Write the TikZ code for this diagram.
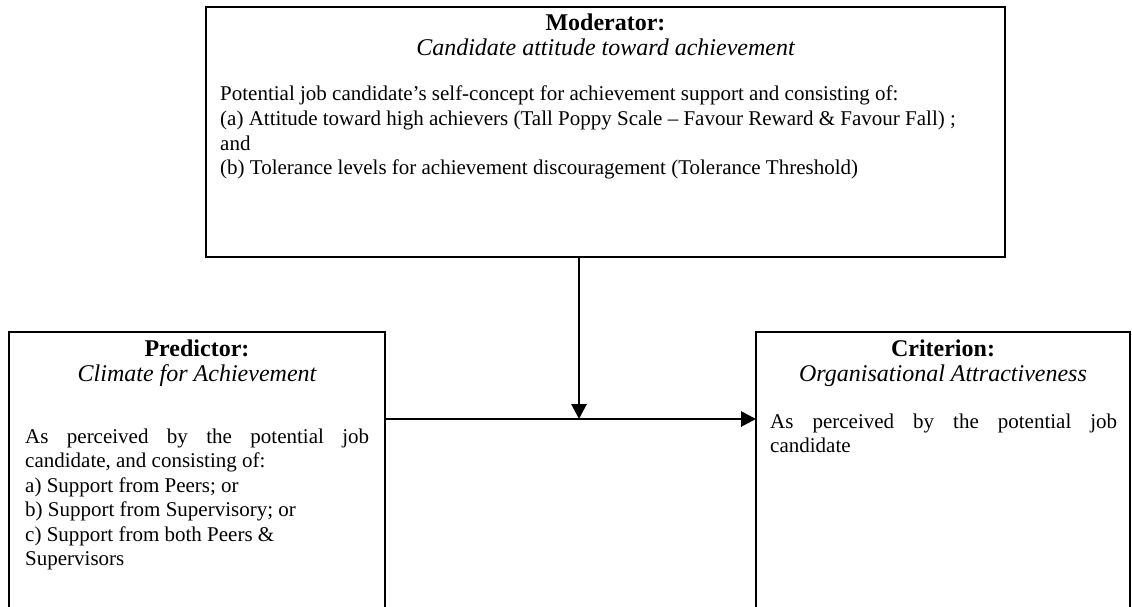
\documentclass[tikz,border=0pt]{standalone}
\usepackage{fontspec}
\setmainfont{Liberation Serif}
\usetikzlibrary{arrows.meta}
\newcommand{\bodyfs}{\fontsize{21}{24.4}\selectfont}
\newcommand{\headfs}{\fontsize{24}{28}\selectfont}
\begin{document}
\begin{tikzpicture}[x=1pt,y=-1pt,
  box/.style={draw, line width=2.8pt, inner sep=0pt, outer sep=0pt, anchor=north west},
  titletxt/.style={anchor=base, inner sep=0pt, font=\headfs\bfseries},
  subtxt/.style={anchor=base, inner sep=0pt, font=\headfs\itshape},
  bodytxt/.style={anchor=base west, inner sep=0pt, font=\bodyfs},
  arr/.style={line width=2.8pt, -{Triangle[length=15pt,width=15pt]}}]
\useasboundingbox (0,0) rectangle (1132,607);
\clip (0,0) rectangle (1132,607);
\fill[white] (0,0) rectangle (1132,607);

% boxes
\node[box, minimum width=799pt, minimum height=250pt] (mod) at (206,7) {};
\node[box, minimum width=376pt, minimum height=330pt] (pred) at (9,332) {};
\node[box, minimum width=374pt, minimum height=330pt] (crit) at (756,332) {};

% moderator text
\node[titletxt] (modt) at (605.5,31) {Moderator:};
\node[subtxt] (mods) at (605.5,56) {Candidate attitude toward achievement};
\node[bodytxt] (modb1) at (220,101) {Potential job candidate’s self-concept for achievement support and consisting of:};
\node[bodytxt] (modb2) at (220,125.5) {(a) Attitude toward high achievers (Tall Poppy Scale -- Favour Reward \& Favour Fall) ;};
\node[bodytxt] (modb3) at (220,150) {and};
\node[bodytxt] (modb4) at (220,174.5) {(b) Tolerance levels for achievement discouragement (Tolerance Threshold)};

% predictor text
\node[titletxt] (predt) at (197,356) {Predictor:};
\node[subtxt] (preds) at (197,381) {Climate for Achievement};
\node[bodytxt] (predb1) at (25,443) {\makebox[344pt][s]{As perceived by the potential job}};
\node[bodytxt] (predb2) at (25,467.5) {candidate, and consisting of:};
\node[bodytxt] (predb3) at (25,492) {a) Support from Peers; or};
\node[bodytxt] (predb4) at (25,516.5) {b) Support from Supervisory; or};
\node[bodytxt] (predb5) at (25,541) {c) Support from both Peers \&};
\node[bodytxt] (predb6) at (25,565.5) {Supervisors};

% criterion text
\node[titletxt] (critt) at (943,356) {Criterion:};
\node[subtxt] (crits) at (943,381) {Organisational Attractiveness};
\node[bodytxt] (critb1) at (770,428) {\makebox[347pt][s]{As perceived by the potential job}};
\node[bodytxt] (critb2) at (770,452.5) {candidate};

% connectors
\coordinate (j) at (579,419);
\draw[arr] (mod.south -| j) -- (j);
\draw[arr] (pred.east |- j) -- (crit.west |- j);
\end{tikzpicture}
\end{document}
